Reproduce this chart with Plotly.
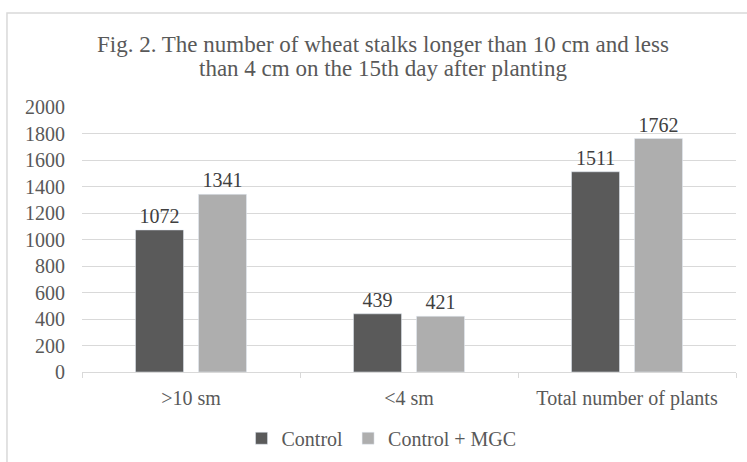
import plotly.graph_objects as go

categories = [">10 sm", "<4 sm", "Total number of plants"]
control = [1072, 439, 1511]
control_mgc = [1341, 421, 1762]
y_ticks = [0, 200, 400, 600, 800, 1000, 1200, 1400, 1600, 1800, 2000]
title_lines = ["Fig. 2. The number of wheat stalks longer than 10 cm and less",
               "than 4 cm on the 15th day after planting"]

FONT = "Liberation Serif"
TXT = "#595959"

fig = go.Figure()
fig.add_trace(go.Bar(
    name="Control", x=categories, y=control, marker_color="#5A5A5A",
    text=[str(v) for v in control], textposition="outside", cliponaxis=False,
    textfont=dict(family=FONT, size=20, color="#404040"),
))
fig.add_trace(go.Bar(
    name="Control + MGC", x=categories, y=control_mgc, marker_color="#AEAEAE",
    text=[str(v) for v in control_mgc], textposition="outside", cliponaxis=False,
    textfont=dict(family=FONT, size=20, color="#404040"),
))

fig.update_layout(
    width=747, height=462,
    margin=dict(l=82, r=11, t=107, b=90, autoexpand=False),
    paper_bgcolor="white", plot_bgcolor="white",
    font=dict(family=FONT, size=20, color=TXT),
    barmode="group", bargap=0.422, bargroupgap=0.238,
    title=dict(
        text=title_lines[0],
        x=0.5127, xanchor="center", y=0.9048, yanchor="middle", yref="container",
        font=dict(family=FONT, size=23, color=TXT),
    ),
    annotations=[dict(
        text=title_lines[1], xref="paper", yref="paper", x=(383 - 82) / 654, y=1.147,
        xanchor="center", yanchor="middle", showarrow=False,
        font=dict(family=FONT, size=23, color=TXT),
    )],
    legend=dict(
        orientation="h", x=0.458, xanchor="center", y=-0.25, yanchor="middle",
        font=dict(family=FONT, size=20, color=TXT), traceorder="normal",
        itemwidth=30,
    ),
    xaxis=dict(
        automargin=False,
        showline=True, linecolor="#D9D9D9", linewidth=1,
        ticks="outside", tickson="boundaries", ticklen=5, tickcolor="#D9D9D9",
        tickfont=dict(family=FONT, size=20, color=TXT),
        ticklabelstandoff=8,
        showgrid=False,
    ),
    yaxis=dict(
        automargin=False,
        range=[0, 2000], tickvals=y_ticks,
        showgrid=True, gridcolor="#D9D9D9", gridwidth=1,
        zeroline=False, showline=False, ticks="",
        ticklabelstandoff=16,
        tickfont=dict(family=FONT, size=20, color=TXT),
    ),
    shapes=[dict(
        type="rect", xref="paper", yref="paper",
        x0=-0.1147, x1=1.2, y0=-0.6, y1=1.3547,
        line=dict(color="#D9D9D9", width=1.5), fillcolor="rgba(0,0,0,0)", layer="below",
    )],
)

fig.write_html("out.html", config={"displayModeBar": False},
               post_script="document.body.style.margin='0';document.documentElement.style.overflow='hidden';")
